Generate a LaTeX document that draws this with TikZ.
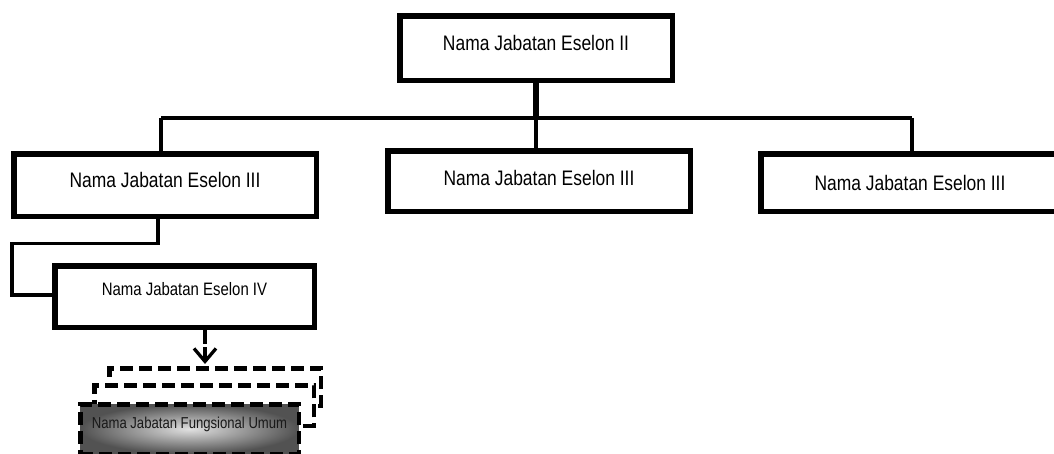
\documentclass[tikz,border=0pt]{standalone}
\usepackage{fontspec}
\setmainfont[FakeStretch=0.83]{Liberation Sans}
\usetikzlibrary{arrows.meta,positioning}

\begin{document}
\begin{tikzpicture}[x=1pt,y=-1pt,
    jabatan/.style={draw,rectangle,fill=white,line width=5.5pt,inner sep=0pt,
      font=\fontsize{21}{24}\selectfont},
    garis/.style={line width=3.3pt},
    putus/.style={draw,rectangle,fill=white,line width=4.5pt,inner sep=0pt,
      dash pattern=on 13pt off 6pt},
    panah/.style={line width=3.3pt,dash pattern=on 14pt off 3pt,
      -{Straight Barb[length=13pt,width=22pt]}}]
  \useasboundingbox (0,0) rectangle (1054,453);
  % eselon II dan III
  \node[jabatan,minimum width=272.5pt,minimum height=64.5pt,text depth=10pt]
    (es2) at (536,48) {Nama Jabatan Eselon II};
  \node[jabatan,minimum width=302.5pt,minimum height=62.5pt,text depth=10pt]
    (es3a) at (165,185) {Nama Jabatan Eselon III};
  \node[jabatan,minimum width=302.5pt,minimum height=60.5pt,text depth=6pt]
    (es3b) at (539,181) {Nama Jabatan Eselon III};
  \node[jabatan,minimum width=298.5pt,minimum height=57.5pt]
    (es3c) at (910,182.5) {Nama Jabatan Eselon III};
  % eselon IV
  \node[jabatan,minimum width=259.5pt,minimum height=61.5pt,text depth=15pt,
    font=\fontsize{18}{21}\selectfont]
    (es4) at (184.5,296.5) {Nama Jabatan Eselon IV};
  % fungsional umum (bertumpuk)
  \node[putus,minimum width=211.5pt,minimum height=37.5pt] (fu3) at (215,387) {};
  \node[putus,minimum width=219.5pt,minimum height=40.5pt] (fu2) at (204,405.5) {};
  \node[putus,minimum width=218.5pt,minimum height=49.5pt,text depth=12pt,
    inner color=black!12,outer color=black!68,text=black!90,
    font=\fontsize{15.8}{18}\selectfont]
    (fu1) at (189.5,429) {Nama Jabatan Fungsional Umum};
  % garis penghubung
  \coordinate (busL) at (161,118);
  \coordinate (busR) at (912,118);
  \coordinate (kA) at (158,243.5);
  \coordinate (kB) at (12,243.5);
  \coordinate (kC) at (12,295);
  \coordinate (aX) at (205,0);
  \draw[line width=6pt] (es2.south) -- (es2.south |- busL);
  \draw[garis] (busL) -- (busR);
  \draw[garis] (es2.south |- busL) -- (es2.south |- es3b.north);
  \draw[garis] (busL) -- (busL |- es3a.north);
  \draw[garis] (busR) -- (busR |- es3c.north);
  \draw[line width=3.8pt] (kA |- es3a.south) -- (kA) -- (kB) -- (kC) -- (kC -| es4.west);
  \draw[panah] (aX |- es4.south) -- ([yshift=2pt]aX |- fu3.north);
\end{tikzpicture}
\end{document}
